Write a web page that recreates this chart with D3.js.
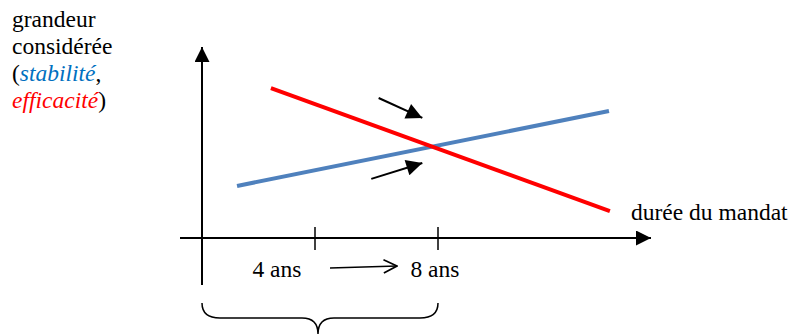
<!DOCTYPE html>
<html><head><meta charset="utf-8">
<script src="https://cdn.jsdelivr.net/npm/d3@7"></script>
<style>
body{margin:0;background:#fff}
#wrap{position:relative;width:793px;height:334px;overflow:hidden}
#c{position:absolute;left:0;top:0;display:block}
.lbl{position:absolute;white-space:nowrap;font-family:"Liberation Serif","Times New Roman",serif !important;font-size:23.5px;line-height:27px;color:#000;margin:0;padding:0}
</style>
</head><body>
<div id="wrap"><svg id="c" width="793" height="334"></svg></div>
<script>
// x in "years", y in arbitrary units
const durationTicks = [4, 8];
const tickLabels = ["4 ans", "8 ans"];
const tickLabelX = [2.65, 7.9];
const stabiliteX = [1.24, 13.56];
const stabiliteY = [2.74, 6.68];
const efficaciteX = [2.44, 13.59];
const efficaciteY = [7.89, 1.42];
const arrowsFrom = [[6.07, 7.37], [5.83, 3.11]];
const arrowsTo = [[7.49, 6.32], [7.49, 3.95]];

const svg = d3.select("#c");
const wrap = d3.select("#wrap");
const x = d3.scaleLinear().domain([0, 4, 8]).range([202, 315, 438]);
const y = d3.scaleLinear().domain([0, 10]).range([238, 48]);

// baseline offset inside a 27px line box for Liberation Serif 23.5px
const BASE = (27 + 23.5 * 0.891 - 23.5 * 0.216) / 2;
function label(xp, baseline, anchor){
  const d = wrap.append("div").attr("class","lbl")
    .style("left", xp + "px").style("top", (baseline - BASE) + "px");
  d.node().style.setProperty("font-family", "'Liberation Serif', 'Times New Roman', serif", "important");
  if (anchor === "middle") d.style("transform","translateX(-50%)");
  return d;
}

const defs = svg.append("defs");
defs.append("marker").attr("id","tri").attr("viewBox","0 0 10 10").attr("refX",10).attr("refY",5)
  .attr("markerUnits","userSpaceOnUse").attr("markerWidth",18).attr("markerHeight",15).attr("orient","auto")
  .append("path").attr("d","M0,0L10,5L0,10Z").attr("fill","#000");
defs.append("marker").attr("id","tri2").attr("viewBox","0 0 10 10").attr("refX",10).attr("refY",5)
  .attr("markerUnits","userSpaceOnUse").attr("markerWidth",19).attr("markerHeight",16).attr("orient","auto")
  .append("path").attr("d","M0,0L10,5L0,10Z").attr("fill","#000");
defs.append("marker").attr("id","open").attr("viewBox","0 0 12 12").attr("refX",11).attr("refY",6)
  .attr("markerUnits","userSpaceOnUse").attr("markerWidth",16).attr("markerHeight",16).attr("orient","auto")
  .append("path").attr("d","M1,1L11,6L1,11").attr("fill","none").attr("stroke","#000").attr("stroke-width",1.3);

// axes
svg.append("line").attr("x1",x(0)).attr("y1",285).attr("x2",x(0)).attr("y2",47)
  .attr("stroke","#000").attr("stroke-width",2).attr("marker-end","url(#tri)");
svg.append("line").attr("x1",180).attr("y1",y(0)).attr("x2",651).attr("y2",y(0))
  .attr("stroke","#000").attr("stroke-width",2).attr("marker-end","url(#tri)");

// ticks
svg.selectAll(".tk").data(durationTicks).join("line").attr("class","tk")
  .attr("x1",d=>x(d)).attr("x2",d=>x(d)).attr("y1",y(0)-11).attr("y2",y(0)+12)
  .attr("stroke","#000").attr("stroke-width",1.5);
tickLabels.forEach((t,i)=>{ label(x(tickLabelX[i]), 277, "middle").text(t); });

// arrow between labels
svg.append("line").attr("x1",330).attr("y1",268).attr("x2",397).attr("y2",266)
  .attr("stroke","#000").attr("stroke-width",1.5).attr("marker-end","url(#open)");

// series lines
const lineGen = d3.line().x(d=>x(d[0])).y(d=>y(d[1]));
svg.append("path").datum(stabiliteX.map((v,i)=>[v,stabiliteY[i]])).attr("d",lineGen)
  .attr("fill","none").attr("stroke","#4f81bd").attr("stroke-width",4);
svg.append("path").datum(efficaciteX.map((v,i)=>[v,efficaciteY[i]])).attr("d",lineGen)
  .attr("fill","none").attr("stroke","#ff0000").attr("stroke-width",4);

// annotation arrows
svg.selectAll(".ar").data(arrowsFrom).join("line").attr("class","ar")
  .attr("x1",d=>x(d[0])).attr("y1",d=>y(d[1]))
  .attr("x2",(d,i)=>x(arrowsTo[i][0])).attr("y2",(d,i)=>y(arrowsTo[i][1]))
  .attr("stroke","#000").attr("stroke-width",2).attr("marker-end","url(#tri2)");

// brace
const bx0 = x(0), bx1 = x(8), bm = (bx0+bx1)/2 - 2;
svg.append("path").attr("d",`M${bx0},303 Q${bx0},318 ${bx0+18},318 L${bm-16},318 Q${bm},318 ${bm},334 Q${bm},318 ${bm+16},318 L${bx1-18},318 Q${bx1},318 ${bx1},303`)
  .attr("fill","none").attr("stroke","#000").attr("stroke-width",1.5);

// labels
label(631, 220).text("durée du mandat");
label(12, 27).text("grandeur");
label(12, 54).text("considérée");
const l3 = label(12, 81);
l3.append("span").text("(");
l3.append("i").style("color","#0070c0").text("stabilité");
l3.append("span").text(",");
const l4 = label(12, 108);
l4.append("i").style("color","#ff0000").text("efficacité");
l4.append("span").text(")");
</script></body></html>
